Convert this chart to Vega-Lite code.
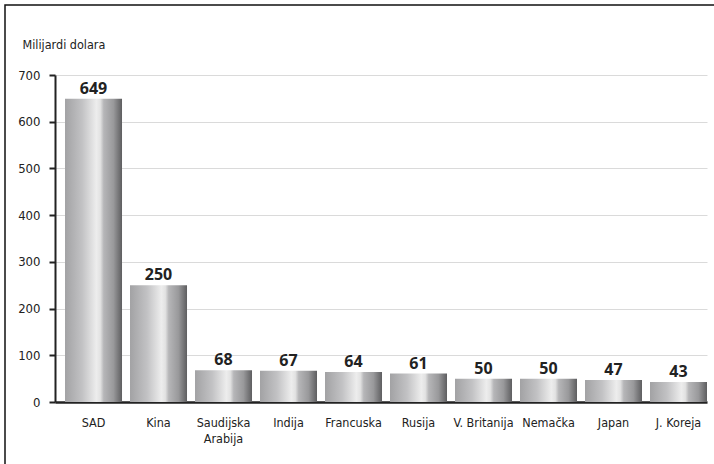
{
  "$schema": "https://vega.github.io/schema/vega-lite/v6.json",
  "width": 735,
  "height": 490,
  "autosize": {"type": "none"},
  "padding": {"left": 5, "top": 5, "right": 0, "bottom": 0},
  "background": "white",
  "config": {
    "view": {"stroke": "#111", "strokeWidth": 1.5, "fill": "white"},
    "axis": {"labelColor": "#222", "titleColor": "#222", "labelFont": "DejaVu Sans Condensed, sans-serif", "titleFont": "DejaVu Sans Condensed, sans-serif"}
  },
  "data": {
    "values": [
      {"country": "SAD", "value": 649},
      {"country": "Kina", "value": 250},
      {"country": "Saudijska Arabija", "value": 68},
      {"country": "Indija", "value": 67},
      {"country": "Francuska", "value": 64},
      {"country": "Rusija", "value": 61},
      {"country": "V. Britanija", "value": 50},
      {"country": "Nemačka", "value": 50},
      {"country": "Japan", "value": 47},
      {"country": "J. Koreja", "value": 43}
    ]
  },
  "encoding": {
    "x": {
      "field": "country",
      "type": "nominal",
      "sort": null,
      "scale": {"range": [50, 702], "paddingInner": 0.123, "paddingOuter": 0.077, "align": 1},
      "axis": {
        "orient": "bottom",
        "offset": -93,
        "title": null,
        "labelAngle": 0,
        "ticks": false,
        "domainColor": "#222",
        "domainWidth": 2.5,
        "labelFontSize": 12.5,
        "labelPadding": 14,
        "labelBaseline": "top",
        "labelLineHeight": 16,
        "labelExpr": "datum.value === 'Saudijska Arabija' ? ['Saudijska', 'Arabija'] : datum.value"
      }
    },
    "y": {
      "field": "value",
      "type": "quantitative",
      "scale": {"domain": [0, 700], "range": [397, 70], "nice": false},
      "axis": {
        "orient": "left",
        "offset": -50,
        "values": [0, 100, 200, 300, 400, 500, 600, 700],
        "title": "Milijardi dolara",
        "titleAngle": 0,
        "titleAlign": "left",
        "titleBaseline": "alphabetic",
        "titleX": -33,
        "titleY": 43,
        "titleFontSize": 12.5,
        "titleFontWeight": "normal",
        "labelFontSize": 13,
        "labelPadding": 9,
        "domainColor": "#222",
        "domainWidth": 2,
        "tickColor": "#222",
        "tickWidth": 2,
        "tickSize": 6,
        "grid": true,
        "gridColor": "#dadada",
        "gridWidth": 1
      }
    }
  },
  "layer": [
    {
      "mark": {
        "type": "bar",
        "color": {
          "gradient": "linear",
          "x1": 0, "y1": 0, "x2": 1, "y2": 0,
          "stops": [
            {"offset": 0, "color": "#a2a2a4"},
            {"offset": 0.3, "color": "#c2c2c4"},
            {"offset": 0.55, "color": "#ededed"},
            {"offset": 0.62, "color": "#e2e2e2"},
            {"offset": 0.68, "color": "#b6b6b8"},
            {"offset": 0.85, "color": "#99999b"},
            {"offset": 1, "color": "#5e5e60"}
          ]
        }
      }
    },
    {
      "mark": {
        "type": "text",
        "baseline": "alphabetic",
        "dy": -5,
        "font": "Open Sans",
        "fontWeight": "bold",
        "fontSize": 16,
        "color": "#222"
      },
      "encoding": {"text": {"field": "value", "type": "quantitative"}}
    }
  ]
}
